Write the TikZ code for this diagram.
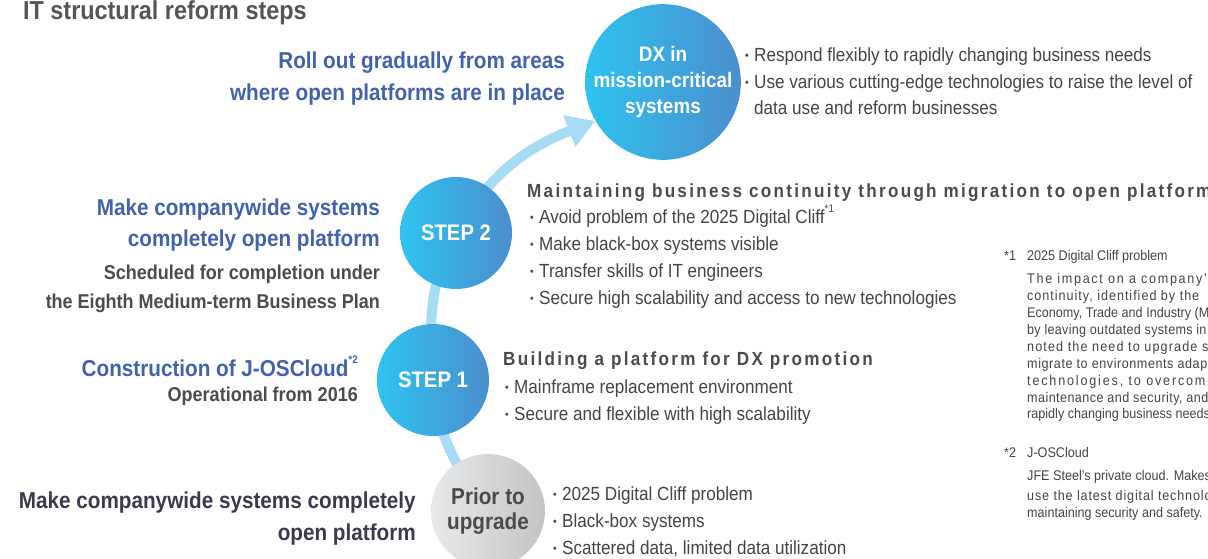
\documentclass[tikz,border=0pt]{standalone}
\usepackage{fontspec}
\setmainfont[FakeStretch=0.9]{Liberation Sans}
\usetikzlibrary{arrows.meta,backgrounds}

\definecolor{titlegray}{HTML}{555555}
\definecolor{headblue}{HTML}{4262AE}
\definecolor{subgray}{HTML}{4B4B4D}
\definecolor{bodygray}{HTML}{444444}
\definecolor{priorhead}{HTML}{3A3A4E}
\definecolor{stepcyan}{HTML}{2EC3F0}
\definecolor{stepdark}{HTML}{4B8ECD}
\definecolor{priorlight}{HTML}{E8E9EB}
\definecolor{priordark}{HTML}{C3C4C6}
\definecolor{priortext}{HTML}{4A4A4C}
\definecolor{flowblue}{HTML}{A6DCF6}

\newcommand{\bul}{\makebox[9pt][l]{\raisebox{0.08em}{\scalebox{0.6}{•}}}}
\newcommand{\fnmark}[1]{\raisebox{0.55em}{\fontsize{11}{11}\selectfont #1}}

\begin{document}
\begin{tikzpicture}[x=1pt,y=1pt,
    stepnode/.style={circle, inner sep=0pt, align=center, text=white, left color=stepcyan, right color=stepdark,
      font=\fontsize{22.5}{26}\selectfont\bfseries},
    lefthead/.style={anchor=base east, inner sep=0pt, text=headblue, font=\fontsize{23}{28}\selectfont\bfseries},
    leftsub/.style={anchor=base east, inner sep=0pt, text=subgray, font=\fontsize{20}{24}\selectfont\bfseries},
    bullettext/.style={anchor=base west, inner sep=0pt, text=bodygray, font=\fontsize{19}{23}\selectfont},
    blockhead/.style={anchor=base west, inner sep=0pt, text=subgray,
      font=\fontsize{19}{23}\selectfont\bfseries\addfontfeature{LetterSpace=12}},
    note/.style={anchor=base west, inner sep=0pt, text=bodygray, font=\fontsize{14}{17}\selectfont},
    spaced/.style={font=\fontsize{14}{17}\selectfont\addfontfeature{LetterSpace=#1}},
    flow/.style={draw=flowblue, line width=10pt, -{Triangle[width=32pt,length=28pt]}}]
    \useasboundingbox (0,0) rectangle (1208,-558);

    \node[anchor=base west, inner sep=0pt, text=titlegray, font=\fontsize{26}{30}\selectfont\bfseries] (title) at (23,-19) {IT structural reform steps};

    % circles
    \node[stepnode, minimum size=144pt, font=\fontsize{21}{26}\selectfont\bfseries] (dx) at (663,-82) {DX in\\mission-critical\\systems};
    \node[stepnode, minimum size=112pt] (step2) at (456,-233) {STEP 2};
    \node[stepnode, minimum size=112pt] (step1) at (433,-380) {STEP 1};
    \node[circle, inner sep=0pt, minimum size=114pt, align=center, left color=priorlight, right color=priordark,
      text=priortext, font=\fontsize{23}{25}\selectfont\bfseries] (prior) at (488,-511) {\raisebox{-4pt}{Prior to}\\\raisebox{-4pt}{upgrade}};

    \begin{scope}[on background layer]
        \draw[flow] (prior.center) to[out=126,in=-86] (step1.center) to[out=94,in=-118] (step2.center) to[out=61,in=201] (dx.210);
    \end{scope}

    % DX
    \node[lefthead] (dxa) at (565,-68) {Roll out gradually from areas};
    \node[lefthead] (dxb) at (565,-100) {where open platforms are in place};
    \node[bullettext] (dxc) at (745,-61) {\bul Respond flexibly to rapidly changing business needs};
    \node[bullettext] (dxd) at (745,-88) {\bul Use various cutting-edge technologies to raise the level of};
    \node[bullettext] (dxe) at (754,-114) {data use and reform businesses};

    % STEP 2
    \node[blockhead] (s2head) at (527,-197) {Maintaining business continuity through migration to open platforms};
    \node[bullettext] (s2a) at (530,-223) {\bul Avoid problem of the 2025 Digital Cliff\fnmark{*1}};
    \node[bullettext] (s2b) at (530,-250) {\bul Make black-box systems visible};
    \node[bullettext] (s2c) at (530,-277) {\bul Transfer skills of IT engineers};
    \node[bullettext] (s2d) at (530,-304) {\bul Secure high scalability and access to new technologies};
    \node[lefthead] (s2l1) at (380,-215) {Make companywide systems};
    \node[lefthead] (s2l2) at (380,-246) {completely open platform};
    \node[leftsub] (s2l3) at (380,-279) {Scheduled for completion under};
    \node[leftsub] (s2l4) at (380,-308) {the Eighth Medium-term Business Plan};

    % STEP 1
    \node[blockhead] (s1head) at (503,-365) {Building a platform for DX promotion};
    \node[bullettext] (s1a) at (505,-393) {\bul Mainframe replacement environment};
    \node[bullettext] (s1b) at (505,-420) {\bul Secure and flexible with high scalability};
    \node[lefthead] (s1l1) at (358,-376) {Construction of J-OSCloud\fnmark{*2}};
    \node[leftsub] (s1l2) at (358,-401) {Operational from 2016};

    % prior to upgrade
    \node[lefthead, text=priorhead] (p1) at (416,-508) {Make companywide systems completely};
    \node[lefthead, text=priorhead] (p2) at (416,-540) {open platform};
    \node[bullettext] (pa) at (553,-500) {\bul 2025 Digital Cliff problem};
    \node[bullettext] (pb) at (553,-527) {\bul Black-box systems};
    \node[bullettext] (pc) at (553,-554) {\bul Scattered data, limited data utilization};

    % notes
    \node[note] (n1) at (1004,-260) {*1};
    \node[note] (n1t) at (1027,-260) {2025 Digital Cliff problem};
    \node[note, spaced=12] (n1a) at (1027,-283) {The impact on a company's};
    \node[note, spaced=7] (n1b) at (1027,-300) {continuity, identified by the};
    \node[note] (n1c) at (1027,-317) {Economy, Trade and Industry (METI)};
    \node[note, spaced=2] (n1d) at (1027,-334) {by leaving outdated systems in};
    \node[note, spaced=8] (n1e) at (1027,-351) {noted the need to upgrade systems};
    \node[note, spaced=4] (n1f) at (1027,-368) {migrate to environments adapted};
    \node[note, spaced=13] (n1g) at (1027,-385) {technologies, to overcome};
    \node[note, spaced=3] (n1h) at (1027,-402) {maintenance and security, and};
    \node[note] (n1i) at (1027,-418) {rapidly changing business needs};
    \node[note] (n2) at (1004,-457) {*2};
    \node[note] (n2t) at (1027,-457) {J-OSCloud};
    \node[note] (n2a) at (1027,-480) {JFE Steel's private cloud. Makes};
    \node[note, spaced=6] (n2b) at (1027,-500) {use the latest digital technologies};
    \node[note] (n2c) at (1027,-517) {maintaining security and safety.};
\end{tikzpicture}
\end{document}
